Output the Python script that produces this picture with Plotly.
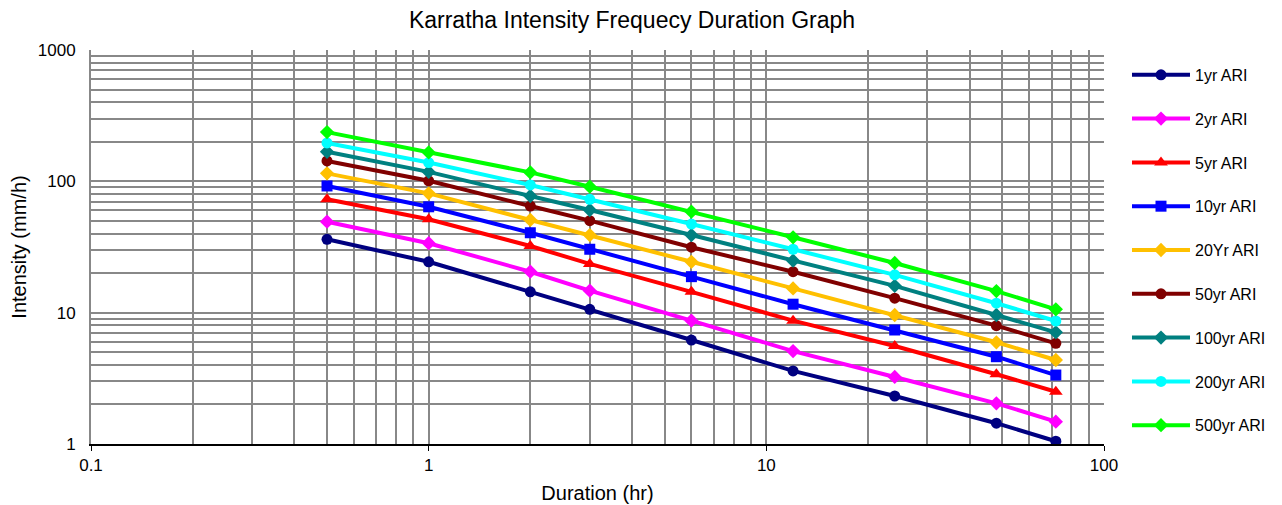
import plotly.graph_objects as go

durations = [0.5, 1, 2, 3, 6, 12, 24, 48, 72]

series_names = ["1yr ARI", "2yr ARI", "5yr ARI", "10yr ARI", "20Yr ARI",
                "50yr ARI", "100yr ARI", "200yr ARI", "500yr ARI"]

ari_1 = [36.2, 24.4, 14.4, 10.6, 6.19, 3.6, 2.32, 1.44, 1.05]
ari_2 = [49.3, 33.8, 20.5, 14.7, 8.69, 5.1, 3.24, 2.04, 1.48]
ari_5 = [73.0, 51.4, 32.2, 23.5, 14.4, 8.69, 5.57, 3.40, 2.50]
ari_10 = [92.2, 64.0, 40.6, 30.4, 18.8, 11.6, 7.38, 4.62, 3.35]
ari_20 = [115, 81.0, 50.8, 39.0, 24.4, 15.3, 9.6, 5.95, 4.36]
ari_50 = [143, 101, 64.9, 50.2, 31.5, 20.5, 12.9, 7.96, 5.84]
ari_100 = [168, 118, 77.3, 60.5, 39.0, 24.9, 16.0, 9.6, 7.08]
ari_200 = [196, 139, 93.8, 73.0, 47.3, 30.4, 19.4, 11.8, 8.64]
ari_500 = [237, 166, 117, 91.0, 58.7, 37.5, 23.9, 14.6, 10.6]

series_values = [ari_1, ari_2, ari_5, ari_10, ari_20, ari_50, ari_100, ari_200, ari_500]
colors = ["#000080", "#FF00FF", "#FF0000", "#0000FF", "#FFC000",
          "#800000", "#008080", "#00FFFF", "#00FF00"]
symbols = ["circle", "diamond", "triangle-up", "square", "diamond",
           "circle", "diamond", "circle", "diamond"]
sizes = [11, 11, 12, 11, 11, 11, 11, 11, 11]

x_minor = [m * 10 ** e for e in (-1, 0, 1) for m in range(2, 10)]
y_minor = [m * 10 ** e for e in (0, 1, 2) for m in range(2, 10)]

fig = go.Figure()
for i, (name, vals) in enumerate(zip(series_names, series_values)):
    fig.add_trace(go.Scatter(
        x=durations, y=vals, name=name, mode="lines+markers",
        legendgroup=name,
        line=dict(color=colors[i], width=4),
        marker=dict(color=colors[i], symbol=symbols[i], size=sizes[i]),
    ))

grid_col = "#888888"
# page body has an 8px default margin; figure is sized so the plot lands where the reference has it
fig.update_layout(
    width=1274, height=497,
    margin=dict(l=83, r=178, t=42, b=61, autoexpand=False),
    paper_bgcolor="white", plot_bgcolor="white",
    font=dict(family="Liberation Sans, Arial, sans-serif", size=17, color="black"),
    title=dict(text="Karratha Intensity Frequecy Duration Graph", x=0.4898, xanchor="center",
               xref="container", y=0.976, yref="container", yanchor="middle",
               font=dict(size=23)),
    showlegend=True,
    legend=dict(x=1.0227, xanchor="left", y=0.980, yanchor="top", maxheight=480,
                font=dict(size=16), tracegroupgap=20, itemwidth=58,
                bgcolor="rgba(0,0,0,0)"),
    xaxis=dict(type="log", range=[-1, 2], title=dict(text="Duration (hr)", standoff=12),
               tickvals=[0.1, 1, 10, 100], ticktext=["0.1", "1", "10", "100"],
               tickfont=dict(size=17), automargin=False, ticklabelstandoff=0,
               showgrid=True, gridcolor=grid_col, gridwidth=2,
               minor=dict(tickvals=x_minor, showgrid=True, gridcolor=grid_col, gridwidth=2),
               ticks="outside", ticklen=5, tickcolor="black", tickwidth=1,
               showline=True, linecolor="black", linewidth=2, zeroline=False),
    yaxis=dict(type="log", range=[0, 3], title=dict(text="Intensity (mm/h)", standoff=10),
               tickvals=[1, 10, 100, 1000], ticktext=["1", "10", "100", "1000"],
               tickfont=dict(size=17), automargin=False, ticklabelstandoff=10,
               showgrid=True, gridcolor=grid_col, gridwidth=2,
               minor=dict(tickvals=y_minor, showgrid=True, gridcolor=grid_col, gridwidth=2),
               ticks="", showline=True, linecolor=grid_col, linewidth=2, zeroline=False),
)

fig.write_html("out.html")
